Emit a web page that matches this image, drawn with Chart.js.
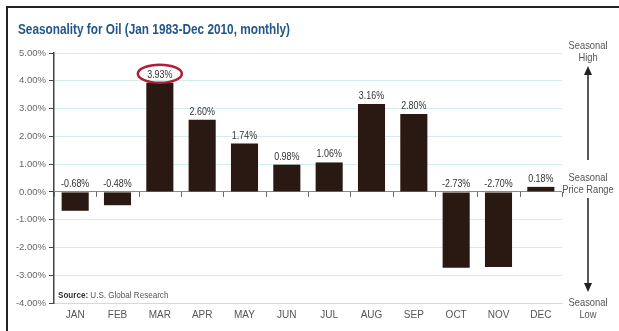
<!DOCTYPE html>
<html>
<head>
<meta charset="utf-8">
<script src="https://cdn.jsdelivr.net/npm/chart.js@4"></script>
<style>
  html, body { margin: 0; padding: 0; background: #fff; }
  #wrap { width: 619px; height: 331px; position: relative; }
</style>
</head>
<body>
<div id="wrap"><canvas id="chartCanvas" width="619" height="331"></canvas></div>
<script>
const months = ["JAN","FEB","MAR","APR","MAY","JUN","JUL","AUG","SEP","OCT","NOV","DEC"]
const seasonality = [-0.68, -0.48, 3.93, 2.60, 1.74, 0.98, 1.06, 3.16, 2.80, -2.73, -2.70, 0.18]
const yTicks = [-4, -3, -2, -1, 0, 1, 2, 3, 4, 5]
const highlightMonth = "MAR"

const narrow = "'Liberation Sans Narrow', 'Arial Narrow', 'Liberation Sans', sans-serif"

// draws text squeezed horizontally, to mimic a condensed face
function squeezed(ctx, text, x, y, sx){
    ctx.save()
    ctx.translate(x, y)
    ctx.scale(sx, 1)
    ctx.fillText(text, 0, 0)
    ctx.restore()
}

const extras = {
    id: "extras",
    afterDatasetsDraw(chart){
        const ctx = chart.ctx
        const x = chart.scales.x
        const y = chart.scales.y
        const area = chart.chartArea
        const zero = y.getPixelForValue(0)

        ctx.save()

        // small ticks under the zero line between months
        ctx.strokeStyle = "#666"
        ctx.lineWidth = 1
        for(let i = 0; i <= months.length; i++){
            const px = Math.round(area.left + i * (area.right - area.left) / months.length) + 0.5
            ctx.beginPath()
            ctx.moveTo(px, zero)
            ctx.lineTo(px, zero + 5)
            ctx.stroke()
        }

        // value labels
        ctx.font = "10.5px " + narrow
        ctx.fillStyle = "#333"
        ctx.textAlign = "center"
        ctx.textBaseline = "alphabetic"
        seasonality.forEach((v, i) => {
            const px = x.getPixelForValue(i)
            const top = v >= 0 ? y.getPixelForValue(v) : zero
            squeezed(ctx, v.toFixed(2) + "%", px, top - 5, 0.85)
        })

        // ring round the best month
        const hi = months.indexOf(highlightMonth)
        const hx = x.getPixelForValue(hi)
        const hy = y.getPixelForValue(seasonality[hi]) - 9
        ctx.strokeStyle = "#b01e38"
        ctx.lineWidth = 2.5
        ctx.beginPath()
        ctx.ellipse(hx, hy, 22, 9, 0, 0, Math.PI * 2)
        ctx.stroke()

        // source note
        ctx.textAlign = "left"
        ctx.font = "bold 9.5px " + narrow
        ctx.fillStyle = "#333"
        squeezed(ctx, "Source:", area.left + 4, area.bottom - 5, 0.85)
        const sw = ctx.measureText("Source: ").width * 0.85
        ctx.font = "9.5px " + narrow
        ctx.fillStyle = "#555"
        squeezed(ctx, "U.S. Global Research", area.left + 4 + sw, area.bottom - 5, 0.85)

        // title, fitted to its width
        const title = "Seasonality for Oil (Jan 1983-Dec 2010, monthly)"
        ctx.font = "bold 14px " + narrow
        ctx.fillStyle = "#23578a"
        squeezed(ctx, title, 18, 34, 272 / ctx.measureText(title).width)

        // right hand scale: high / price range / low
        const cx = 588
        ctx.font = "11px " + narrow
        ctx.fillStyle = "#555"
        ctx.textAlign = "center"
        squeezed(ctx, "Seasonal", cx, 49, 0.85)
        squeezed(ctx, "High", cx, 61, 0.85)
        squeezed(ctx, "Seasonal", cx, 181, 0.85)
        squeezed(ctx, "Price Range", cx, 193, 0.85)
        squeezed(ctx, "Seasonal", cx, 306, 0.85)
        squeezed(ctx, "Low", cx, 318, 0.85)

        ctx.strokeStyle = "#222"
        ctx.fillStyle = "#222"
        ctx.lineWidth = 1.5
        ctx.beginPath()
        ctx.moveTo(cx, 72)
        ctx.lineTo(cx, 160)
        ctx.moveTo(cx, 198)
        ctx.lineTo(cx, 286)
        ctx.stroke()
        ctx.beginPath()
        ctx.moveTo(cx, 66)
        ctx.lineTo(cx - 4, 75)
        ctx.lineTo(cx + 4, 75)
        ctx.closePath()
        ctx.fill()
        ctx.beginPath()
        ctx.moveTo(cx, 292)
        ctx.lineTo(cx - 4, 283)
        ctx.lineTo(cx + 4, 283)
        ctx.closePath()
        ctx.fill()

        // frame
        ctx.strokeStyle = "#222"
        ctx.lineWidth = 2
        ctx.beginPath()
        ctx.moveTo(7, 331)
        ctx.lineTo(7, 7)
        ctx.lineTo(619, 7)
        ctx.stroke()

        ctx.restore()
    }
}

new Chart(document.getElementById("chartCanvas"), {
    type: "bar",
    data: {
        labels: months,
        datasets: [{
            label: "Average monthly return",
            data: seasonality,
            backgroundColor: "#2a1912",
            categoryPercentage: 1,
            barPercentage: 0.64
        }]
    },
    options: {
        responsive: false,
        animation: false,
        layout: { padding: { left: 6, right: 57, top: 53, bottom: 0 } },
        plugins: {
            legend: { display: false },
            title: { display: false },
            tooltip: { enabled: false }
        },
        scales: {
            x: {
                grid: { display: false, drawTicks: false },
                border: { display: true, color: "#d4d9d9", width: 1 },
                ticks: {
                    color: "#555",
                    font: { family: narrow, size: 10 },
                    padding: 6,
                    maxRotation: 0
                },
                afterFit: s => { s.height = 28 }
            },
            y: {
                min: -4,
                max: 5,
                afterBuildTicks: s => { s.ticks = yTicks.map(v => ({ value: v })) },
                grid: {
                    color: c => c.tick && c.tick.value === 0 ? "#8a8a8a" : "#d3ecee",
                    tickColor: "#444",
                    tickLength: 5,
                    lineWidth: 1
                },
                border: { display: true, color: "#444", width: 1.5 },
                ticks: {
                    color: "#666",
                    font: { family: narrow, size: 9.5 },
                    padding: 3,
                    callback: v => v.toFixed(2) + "%"
                },
                afterFit: s => { s.width = 48 }
            }
        }
    },
    plugins: [extras]
})
</script>
</body>
</html>
